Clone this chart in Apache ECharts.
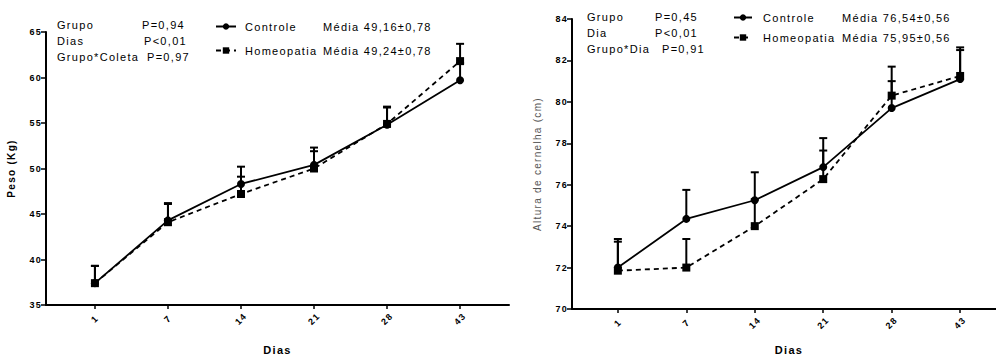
<!DOCTYPE html>
<html>
<head>
<meta charset="utf-8">
<script src="https://cdn.jsdelivr.net/npm/echarts@6/dist/echarts.min.js"></script>
<style>
  html, body { margin: 0; padding: 0; background: #fff; }
  #grafico { width: 996px; height: 356px; }
  /* texto espaçado como no original */
  #grafico text { letter-spacing: 1.3px; }
</style>
</head>
<body>
<div id="grafico"></div>
<script>
// dias de coleta
const dias = ['1', '7', '14', '21', '28', '43'];

// Peso (Kg): média e limite superior da barra de erro
const pesoControle = [37.4, 44.3, 48.3, 50.4, 54.8, 59.7];
const pesoControleSup = [39.3, 46.2, 50.2, 52.3, 56.7, 61.6];
const pesoHomeo = [37.4, 44.1, 47.2, 50.0, 54.9, 61.8];
const pesoHomeoSup = [39.3, 46.1, 49.1, 51.9, 56.8, 63.7];

// Altura de cernelha (cm)
const alturaControle = [72.0, 74.35, 75.25, 76.85, 79.7, 81.1];
const alturaControleSup = [73.38, 75.75, 76.6, 78.25, 81.0, 82.5];
const alturaHomeo = [71.85, 72.0, 74.0, 76.27, 80.3, 81.25];
const alturaHomeoSup = [73.25, 73.38, 75.3, 77.65, 81.7, 82.63];

// textos das estatísticas
const pesoStatNomes = ['Grupo', 'Dias', 'Grupo*Coleta'];
const pesoStatP = ['P=0,94', 'P<0,01', 'P=0,97'];
const alturaStatNomes = ['Grupo', 'Dia', 'Grupo*Dia'];
const alturaStatP = ['P=0,45', 'P<0,01', 'P=0,91'];
const pesoMedias = { Controle: 'Média 49,16±0,78', Homeopatia: 'Média 49,24±0,78' };
const alturaMedias = { Controle: 'Média 76,54±0,56', Homeopatia: 'Média 75,95±0,56' };

const posicoes = dias.map((d, i) => i);
const pares = vals => vals.map((v, i) => [i, v]);
const barras = (vals, sup) => vals.map((v, i) => [i, v, sup[i]]);

const myChart = echarts.init(document.getElementById('grafico'), null, { renderer: 'svg' });

function renderErro(params, api) {
  const x = api.value(0);
  const p0 = api.coord([x, api.value(1)]);
  const p1 = api.coord([x, api.value(2)]);
  const st = { stroke: '#000', lineWidth: 2 };
  return {
    type: 'group',
    children: [
      { type: 'line', shape: { x1: p0[0], y1: p0[1], x2: p1[0], y2: p1[1] }, style: st },
      { type: 'line', shape: { x1: p1[0] - 4, y1: p1[1], x2: p1[0] + 4, y2: p1[1] }, style: st }
    ]
  };
}

function eixoX(gridIndex, gap) {
  return {
    type: 'value',
    gridIndex: gridIndex,
    min: -0.67,
    max: 5.67,
    name: 'Dias',
    nameLocation: 'middle',
    nameGap: gap,
    nameTextStyle: { fontFamily: 'Liberation Sans', fontWeight: 'bold', fontSize: 11, color: '#000' },
    axisLine: { show: true, onZero: false, lineStyle: { color: '#000', width: 2 } },
    axisTick: { show: true, customValues: posicoes, length: 4, lineStyle: { color: '#000', width: 1.5 } },
    axisLabel: {
      customValues: posicoes,
      formatter: v => dias[Math.round(v)],
      rotate: 45,
      align: 'center',
      verticalAlign: 'middle',
      margin: 14,
      fontFamily: 'Liberation Sans',
      fontSize: 9,
      fontWeight: 'bold',
      color: '#000'
    },
    splitLine: { show: false }
  };
}

function eixoY(gridIndex, min, max, interval, nome, estiloNome) {
  return {
    type: 'value',
    gridIndex: gridIndex,
    min: min,
    max: max,
    interval: interval,
    name: nome,
    nameLocation: 'middle',
    nameGap: 30,
    nameTextStyle: estiloNome,
    axisLine: { show: true, onZero: false, lineStyle: { color: '#000', width: 2 } },
    axisTick: { show: true, length: 5, lineStyle: { color: '#000', width: 1.5 } },
    axisLabel: { margin: 4, fontFamily: 'Liberation Sans', fontSize: 9, fontWeight: 'bold', color: '#000' },
    splitLine: { show: false }
  };
}

function serieLinha(nome, dados, idx, tracejado) {
  return {
    name: nome,
    type: 'line',
    xAxisIndex: idx,
    yAxisIndex: idx,
    data: pares(dados),
    symbol: tracejado ? 'rect' : 'circle',
    symbolSize: 8,
    lineStyle: { color: '#000', width: 1.8, type: tracejado ? [5, 4] : 'solid' },
    itemStyle: { color: '#000' },
    z: 3,
    animation: false
  };
}

function serieErro(dados, sup, idx) {
  return {
    type: 'custom',
    xAxisIndex: idx,
    yAxisIndex: idx,
    data: barras(dados, sup),
    renderItem: renderErro,
    z: 2,
    silent: true,
    animation: false
  };
}

function legenda(left, top, gap, largIcone, medias, larguraNome, recuo) {
  return {
    left: left,
    top: top,
    padding: 0,
    orient: 'vertical',
    itemWidth: largIcone,
    itemHeight: 8,
    itemGap: gap,
    data: ['Controle', 'Homeopatia'],
    formatter: n => '{a|' + n + '}{b|' + medias[n] + '}',
    textStyle: {
      fontFamily: 'Liberation Sans',
      fontSize: 11,
      color: '#000',
      rich: {
        a: { width: larguraNome, padding: [0, 0, 0, recuo], fontSize: 11, fontFamily: 'Liberation Sans' },
        b: { fontSize: 11, fontFamily: 'Liberation Sans' }
      }
    },
    selectedMode: false
  };
}

function textosStat(nomes, ps, xNome, xP, ys) {
  const out = [];
  nomes.forEach((n, i) => {
    out.push({ type: 'text', left: xNome, top: ys[i] - 6,
      style: { text: n, font: '11px "Liberation Sans"', fill: '#000' } });
    out.push({ type: 'text', left: xP[i], top: ys[i] - 6,
      style: { text: ps[i], font: '11px "Liberation Sans"', fill: '#000' } });
  });
  return out;
}

const option = {
  backgroundColor: '#fff',
  animation: false,
  grid: [
    { left: 46, top: 32, width: 463, height: 273, outerBoundsMode: 'none', containLabel: false },
    { left: 572, top: 19, width: 434, height: 290, outerBoundsMode: 'none', containLabel: false }
  ],
  xAxis: [eixoX(0, 39), eixoX(1, 35)],
  yAxis: [
    eixoY(0, 35, 65, 5, 'Peso (Kg)',
      { fontFamily: 'Liberation Sans', fontWeight: 'bold', fontSize: 10, color: '#000' }),
    eixoY(1, 70, 84, 2, 'Altura de cernelha (cm)',
      { fontFamily: 'Liberation Sans', fontSize: 10, color: '#555' })
  ],
  legend: [
    legenda(215, 21, 13, 20, pesoMedias, 78, 4),
    legenda(733, 12, 9, 18, alturaMedias, 79, 6)
  ],
  graphic: textosStat(pesoStatNomes, pesoStatP, 57, [142, 144, 147], [25, 41, 57])
    .concat(textosStat(alturaStatNomes, alturaStatP, 587, [655, 655, 662], [17, 33, 49])),
  series: [
    serieErro(pesoControle, pesoControleSup, 0),
    serieErro(pesoHomeo, pesoHomeoSup, 0),
    serieLinha('Controle', pesoControle, 0, false),
    serieLinha('Homeopatia', pesoHomeo, 0, true),
    serieErro(alturaControle, alturaControleSup, 1),
    serieErro(alturaHomeo, alturaHomeoSup, 1),
    serieLinha('Controle', alturaControle, 1, false),
    serieLinha('Homeopatia', alturaHomeo, 1, true)
  ]
};

myChart.setOption(option);
</script>
</body>
</html>
